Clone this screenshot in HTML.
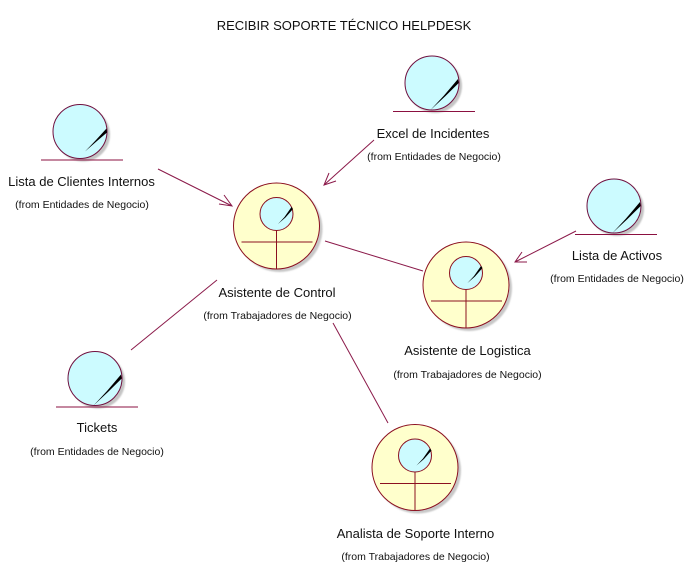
<!DOCTYPE html>
<html>
<head>
<meta charset="utf-8">
<style>
html,body{margin:0;padding:0;background:#fff;width:696px;height:579px;overflow:hidden}
svg{display:block}
text{font-family:"Liberation Sans",Arial,sans-serif;fill:#111;text-anchor:middle}
.n{font-size:13px}
.f{font-size:10.5px}
.t{font-size:13px}
.l{stroke:#8b1a4a;stroke-width:1;fill:none}
line{shape-rendering:crispEdges}
</style>
</head>
<body>
<svg width="696" height="579" viewBox="0 0 696 579" xmlns="http://www.w3.org/2000/svg">
<defs>
<filter id="b" x="-20%" y="-20%" width="140%" height="140%"><feGaussianBlur stdDeviation="0.8"/></filter>
<g id="c">
<circle cx="3" cy="3" r="27" fill="#c4c4c4" filter="url(#b)"/>
<circle cx="0" cy="0" r="27" fill="#ccfbff" stroke="#70103f" stroke-width="1"/>
<line x1="-39" y1="28.5" x2="43" y2="28.5" stroke="#8b1040"/>
</g>
<polygon id="nd" points="-1.5,27 12,12.5 26,-4 26.7,0 13,13.5"  fill="#000"/>
<g id="a">
<circle cx="3" cy="3" r="43" fill="#c8c8c8" filter="url(#b)"/>
<circle cx="0" cy="0" r="43" fill="#ffffcc" stroke="#8b1020" stroke-width="1"/>
<circle cx="0" cy="-12" r="16.5" fill="#ccfbff" stroke="#8b1020" stroke-width="1"/>
<polygon points="1.5,-2 8,-9 15,-19 16.5,-17 9,-8.5" fill="#000"/>
<line x1="-35" y1="16" x2="36" y2="16" stroke="#8b1020"/>
<line x1="0" y1="4.5" x2="0" y2="43" stroke="#8b1020"/>
</g>
</defs>

<text class="t" x="344" y="30">RECIBIR SOPORTE TÉCNICO HELPDESK</text>

<use href="#c" x="80" y="131.5"/>
<polygon points="85,151.5 96,140 106.5,128.5 107,132.5 97,141" fill="#000"/>
<use href="#c" x="432" y="83"/>
<use href="#nd" x="432" y="83"/>
<use href="#c" x="614" y="206"/>
<use href="#nd" x="614" y="206"/>
<use href="#c" x="95" y="378.5"/>
<use href="#nd" x="95" y="378.5"/>
<use href="#a" x="276.5" y="226"/>
<use href="#a" x="466" y="285"/>
<use href="#a" x="415" y="467.5"/>

<path class="l" d="M158,169 L232,206 M219,204 L232,206 L224,195"/>
<path class="l" d="M374,140 L324,185 M329,173 L324,185 L336,181"/>
<path class="l" d="M576,231 L515,262 M522,252 L515,262 L527,262"/>
<path class="l" d="M325,241 L423,271"/>
<path class="l" d="M217,280 L131,350"/>
<path class="l" d="M333,323 L388,423"/>

<text class="n" x="81.5" y="186">Lista de Clientes Internos</text>
<text class="f" x="82" y="208">(from Entidades de Negocio)</text>
<text class="n" x="433" y="138">Excel de Incidentes</text>
<text class="f" x="434" y="160">(from Entidades de Negocio)</text>
<text class="n" x="617" y="260">Lista de Activos</text>
<text class="f" x="617" y="282">(from Entidades de Negocio)</text>
<text class="n" x="97" y="432">Tickets</text>
<text class="f" x="97" y="455">(from Entidades de Negocio)</text>
<text class="n" x="277" y="297">Asistente de Control</text>
<text class="f" x="277.5" y="319">(from Trabajadores de Negocio)</text>
<text class="n" x="467.5" y="355">Asistente de Logistica</text>
<text class="f" x="467.5" y="378">(from Trabajadores de Negocio)</text>
<text class="n" x="415.5" y="538">Analista de Soporte Interno</text>
<text class="f" x="415.5" y="560">(from Trabajadores de Negocio)</text>
</svg>
</body>
</html>
